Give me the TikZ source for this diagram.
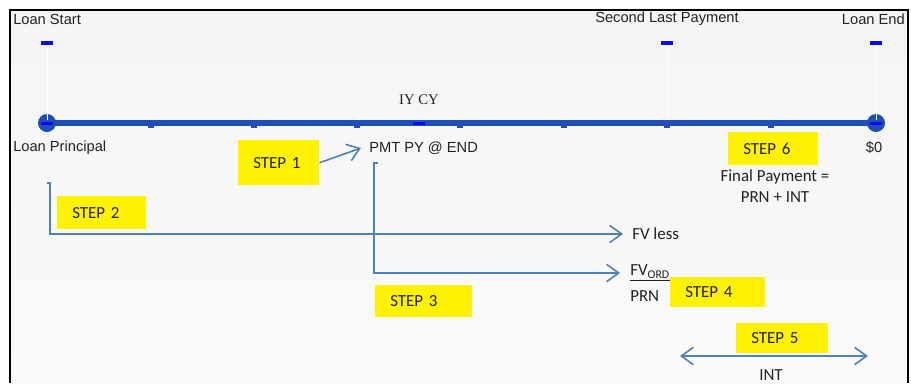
\documentclass[tikz,border=0pt]{standalone}
\usepackage{fontspec}
\setmainfont{Liberation Sans}
\newfontfamily\calfont{Carlito}
\newfontfamily\serfont{Liberation Serif}
\usetikzlibrary{arrows.meta}
\definecolor{lineblue}{HTML}{1F4EB4}
\definecolor{markblue}{HTML}{0A0AF0}
\definecolor{arrowblue}{HTML}{4F81BD}
\definecolor{txtgray}{HTML}{222222}
\tikzset{
  lbl/.style={inner sep=0pt, text=txtgray, font=\fontsize{11}{13}\selectfont},
  cal/.style={inner sep=0pt, text=txtgray, font=\calfont\fontsize{12.7}{15.75}\selectfont},
  stepbox/.style 2 args={fill=yellow, anchor=north west, inner xsep=11.25pt, inner ysep=0pt,
    text width=#1, minimum height=#2, text=txtgray, font=\calfont\fontsize{12.7}{15}\selectfont},
  barb/.tip={Straight Barb[length=9pt, width=13pt]},
  flow/.style={arrowblue, line width=1.2pt, -barb},
}

\begin{document}
\begin{tikzpicture}[x=0.75pt, y=-0.75pt]
      \useasboundingbox (0,0) rectangle (911,383);
      \shade[top color=black!4, middle color=black!10, bottom color=black!2] (10,10) rectangle (908,383);
      \draw[black, line width=1.6pt] (10,383) -- (10,10) -- (908,10) -- (908,383);
      \coordinate (start) at (47,123);
      \coordinate (end) at (876,123);
      \foreach \t in {151,254,357,460,564,667,771} {
        \fill[lineblue] (\t-3,123) rectangle (\t+3,128);
      }
      \draw[lineblue, line width=4pt] (start) -- (end);
      \fill[lineblue] (start) circle[radius=6.75pt];
      \fill[lineblue] (end) circle[radius=6.75pt];
      \foreach \m in {47,667,876} {
        \draw[white, line width=0.4pt] (\m,45) -- (\m,120);
        \fill[markblue] (\m-6,41) rectangle (\m+6,45);
      }
      \foreach \m in {47,419,876} {
        \fill[markblue] (\m-6,121.5) rectangle (\m+6,124.5);
      }
      \node[lbl, anchor=west] (lstart) at (13,19) {Loan Start};
      \node[lbl] (slast) at (667,19) {Second Last Payment};
      \node[lbl, anchor=east] (lend) at (905,19) {Loan End};
      \node[inner sep=0pt, text=txtgray, font=\serfont\fontsize{11}{13}\selectfont] (iycy) at (419,100) {IY CY};
      \node[lbl, anchor=west] (lprin) at (13,148) {Loan Principal};
      \node[lbl, anchor=west] (pmt) at (369,148) {PMT PY @ END};
      \node[lbl] (zero) at (874,148) {\$0};
      \node[cal, align=center] (final) at (775,186) {Final Payment =\\PRN + INT};
      \node[cal, anchor=west] (fvless) at (632,234) {FV less};
      \node[cal, anchor=west] (fvord) at (630,273) {\underline{FV\textsubscript{ORD}}};
      \node[cal, anchor=west] (prn) at (630,296) {PRN};
      \node[cal] (int) at (771,375) {INT};
      \node[stepbox={38.25pt}{33.75pt}] (step1) at (238,140) {STEP 1};
      \node[stepbox={44.25pt}{24.75pt}] (step2) at (57,196) {STEP 2};
      \node[stepbox={50.25pt}{24pt}] (step3) at (375,285) {STEP 3};
      \node[stepbox={48.75pt}{22.5pt}] (step4) at (670,277) {STEP 4};
      \node[stepbox={46.5pt}{22.5pt}] (step5) at (736,323) {STEP 5};
      \node[stepbox={45pt}{24.75pt}] (step6) at (728,132) {STEP 6};
      \coordinate (p2) at (47,183);
      \coordinate (p3) at (378,163);
      \coordinate (i5a) at (680,356);
      \coordinate (i5b) at (868,356);
      \draw[flow] (step1.east) -- ([xshift=-6pt]pmt.west);
      \draw[flow] (p2) -- ++(3,0) |- ([xshift=-6.75pt]fvless.west);
      \draw[flow] (p3) -- ++(-4,0) |- ([xshift=-7.5pt]fvord.west);
      \draw[flow, barb-barb] (i5a) -- (i5b);
    \end{tikzpicture}
\end{document}
